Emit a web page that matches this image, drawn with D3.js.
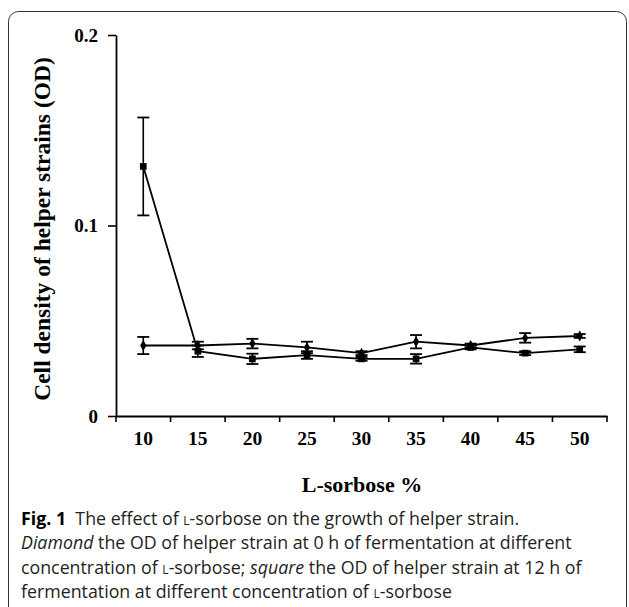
<!DOCTYPE html>
<html>
<head>
<meta charset="utf-8">
<script src="https://cdn.jsdelivr.net/npm/d3@7"></script>
<style>
  body { margin: 0; background: #fff; }
  .sc { font-variant: small-caps; }
</style>
</head>
<body>
<div id="chart"></div>
<script>
// Data
const categories = [10, 15, 20, 25, 30, 35, 40, 45, 50];
const od0h = [0.037, 0.037, 0.038, 0.036, 0.033, 0.039, 0.037, 0.041, 0.042];
const od0hErr = [0.0045, 0.002, 0.0025, 0.003, 0.001, 0.0035, 0.001, 0.0025, 0.001];
const od12h = [0.131, 0.034, 0.030, 0.032, 0.030, 0.030, 0.036, 0.033, 0.035];
const od12hErr = [0.0257, 0.003, 0.0027, 0.002, 0.001, 0.0025, 0.001, 0.001, 0.0015];
const yTicks = [0, 0.1, 0.2];

const width = 629, height = 607;
const svg = d3.select("#chart").append("svg")
    .attr("width", width)
    .attr("height", height);

// rounded figure frame
svg.append("rect")
    .attr("x", 8.5).attr("y", 11.5)
    .attr("width", 618).attr("height", 640)
    .attr("rx", 10)
    .attr("fill", "none")
    .attr("stroke", "#333")
    .attr("stroke-width", 1);

const plotLeft = 116, plotRight = 607, plotTop = 35, plotBottom = 416;

const x = d3.scaleBand()
    .domain(categories)
    .range([plotLeft, plotRight])
    .padding(0);

const y = d3.scaleLinear()
    .domain([0, 0.2])
    .range([plotBottom, plotTop]);

const serif = "'Liberation Serif', 'Times New Roman', serif";

// y axis
const yAxis = svg.append("g")
    .attr("transform", `translate(${plotLeft},0)`)
    .call(d3.axisLeft(y)
        .tickValues(yTicks)
        .tickSize(8)
        .tickSizeOuter(0)
        .tickPadding(10)
        .tickFormat(d => d === 0 ? "0" : d3.format(".1f")(d)));
yAxis.select(".domain").attr("stroke-width", 1.8);
yAxis.selectAll(".tick line").attr("stroke-width", 1.6);
yAxis.selectAll("text")
    .attr("font-family", serif)
    .attr("font-weight", "bold")
    .attr("font-size", 19)
    .attr("fill", "#000");

// x axis labels
const xAxis = svg.append("g")
    .attr("transform", `translate(0,${plotBottom})`)
    .call(d3.axisBottom(x).tickSize(0).tickPadding(15).tickSizeOuter(0));
xAxis.select(".domain").attr("stroke-width", 1.8);
xAxis.selectAll("text")
    .attr("font-family", serif)
    .attr("font-weight", "bold")
    .attr("font-size", 19.5)
    .attr("fill", "#000");

// x ticks sit on the band boundaries
const bounds = categories.map(c => x(c)).concat([x(categories[categories.length - 1]) + x.bandwidth()]);
svg.append("g").selectAll("line")
    .data(bounds)
    .enter().append("line")
    .attr("x1", d => d).attr("x2", d => d)
    .attr("y1", plotBottom).attr("y2", plotBottom + 6)
    .attr("stroke", "#000")
    .attr("stroke-width", 1.6);

// axis titles
svg.append("text")
    .attr("x", 362).attr("y", 492)
    .attr("text-anchor", "middle")
    .attr("font-family", serif)
    .attr("font-weight", "bold")
    .attr("font-size", 22)
    .text("L-sorbose %");

svg.append("text")
    .attr("transform", "translate(50,229) rotate(-90)")
    .attr("text-anchor", "middle")
    .attr("font-family", serif)
    .attr("font-weight", "bold")
    .attr("font-size", 23.5)
    .text("Cell density of helper strains (OD)");

// series
const cx = d => x(d) + x.bandwidth() / 2;

function drawSeries(values, errs, shape) {
    const pts = categories.map((c, i) => ({ c, v: values[i], e: errs[i] }));
    const g = svg.append("g");

    g.append("path")
        .datum(pts)
        .attr("fill", "none")
        .attr("stroke", "#000")
        .attr("stroke-width", 1.8)
        .attr("d", d3.line().x(d => cx(d.c)).y(d => y(d.v)));

    const eb = g.selectAll(".err").data(pts).enter().append("g");
    eb.append("line")
        .attr("x1", d => cx(d.c)).attr("x2", d => cx(d.c))
        .attr("y1", d => y(d.v + d.e)).attr("y2", d => y(d.v - d.e))
        .attr("stroke", "#000").attr("stroke-width", 1.6);
    eb.append("line")
        .attr("x1", d => cx(d.c) - 6).attr("x2", d => cx(d.c) + 6)
        .attr("y1", d => y(d.v + d.e)).attr("y2", d => y(d.v + d.e))
        .attr("stroke", "#000").attr("stroke-width", 1.8);
    eb.append("line")
        .attr("x1", d => cx(d.c) - 6).attr("x2", d => cx(d.c) + 6)
        .attr("y1", d => y(d.v - d.e)).attr("y2", d => y(d.v - d.e))
        .attr("stroke", "#000").attr("stroke-width", 1.8);

    g.selectAll(".mark").data(pts).enter().append("path")
        .attr("transform", d => `translate(${cx(d.c)},${y(d.v)})`)
        .attr("d", d3.symbol().type(shape === "square" ? d3.symbolSquare : d3.symbolDiamond)
            .size(shape === "square" ? 45 : 34))
        .attr("fill", "#000");
}

drawSeries(od0h, od0hErr, "diamond");
drawSeries(od12h, od12hErr, "square");

// caption
const sans = "'Open Sans', 'Noto Sans', sans-serif";
const cap = svg.append("g")
    .attr("font-family", sans)
    .attr("font-size", 17.8)
    .attr("fill", "#231f20");

const lines = [
    [["Fig. 1", "b"], ["  The effect of ", ""], ["l", "sc"], ["-sorbose on the growth of helper strain.", ""]],
    [["Diamond", "i"], [" the OD of helper strain at 0 h of fermentation at different", ""]],
    [["concentration of ", ""], ["l", "sc"], ["-sorbose; ", ""], ["square", "i"], [" the OD of helper strain at 12 h of", ""]],
    [["fermentation at different concentration of ", ""], ["l", "sc"], ["-sorbose", ""]]
];

lines.forEach((parts, i) => {
    const t = cap.append("text")
        .attr("x", 21)
        .attr("y", 525 + i * 24.3)
        .attr("xml:space", "preserve");
    parts.forEach(([s, k]) => {
        const sp = t.append("tspan").text(s);
        if (k === "b") sp.attr("font-weight", "bold").attr("fill", "#000");
        if (k === "i") sp.attr("font-style", "italic");
        if (k === "sc") sp.attr("class", "sc");
    });
});
</script>
</body>
</html>
